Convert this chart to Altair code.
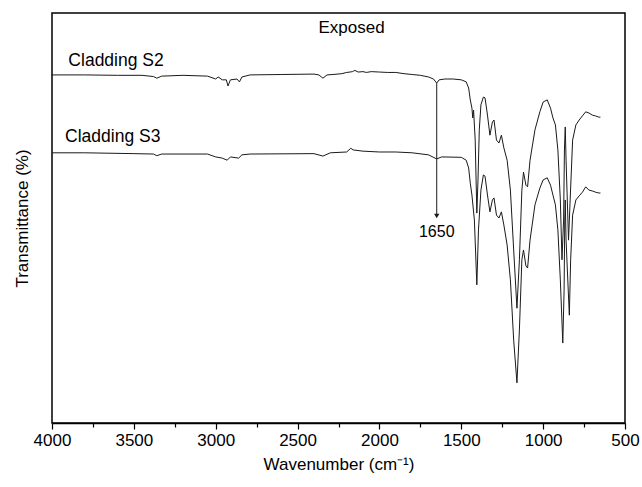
import altair as alt
import pandas as pd

# FTIR spectra of the exposed cladding samples (arbitrary transmittance scale)
wn_s2 = [4000, 3800, 3600, 3450, 3380, 3360, 3330, 3200, 3050, 3000, 2985, 2960, 2935, 2925,
         2910, 2870, 2855, 2840, 2790, 2600, 2400, 2370, 2345, 2320, 2284, 2230, 2200, 2180,
         2165, 2150, 2130, 2100, 2080, 2050, 2000, 1950, 1900, 1850, 1800, 1750, 1700, 1670,
         1650, 1635, 1600, 1550, 1500, 1470, 1455, 1445, 1435, 1430, 1425, 1415, 1405, 1398,
         1390, 1380, 1365, 1355, 1340, 1325, 1310, 1300, 1285, 1270, 1255, 1240, 1220, 1200,
         1180, 1160, 1145, 1130, 1120, 1105, 1095, 1080, 1050, 1020, 1000, 975, 955, 940, 925,
         910, 895, 885, 875, 870, 865, 860, 845, 835, 820, 800, 780, 760, 740, 720, 700, 680,
         660, 650]
t_s2 = [84.9, 84.9, 84.8, 84.8, 84.5, 84.1, 84.6, 84.8, 84.6, 83.9, 84.4, 83.7, 83.7, 82.2,
        83.7, 83.9, 83.2, 84.4, 84.9, 85.0, 85.1, 84.9, 84.1, 84.9, 85.0, 85.2, 85.5, 85.6,
        85.7, 86.0, 85.6, 85.7, 85.5, 85.7, 85.6, 85.5, 85.5, 85.2, 85.0, 84.8, 84.4, 83.9,
        82.9, 83.7, 83.9, 83.9, 83.7, 83.2, 81.7, 78.8, 76.8, 74.4, 76.3, 69.0, 51.2, 59.3,
        71.5, 77.6, 79.5, 79.3, 75.1, 70.2, 73.4, 73.9, 69.0, 68.3, 70.2, 67.1, 64.1, 56.8,
        42.2, 28.0, 39.8, 56.8, 61.2, 58.0, 57.6, 64.1, 71.5, 75.9, 78.3, 78.8, 76.8, 74.4, 72.7,
        66.6, 54.4, 39.8, 49.5, 66.6, 72.2, 64.1, 44.6, 54.4, 69.0, 72.7, 73.9, 74.9, 75.9, 75.6,
        75.1, 74.9, 74.6, 74.6]

wn_s3 = [4000, 3800, 3500, 3380, 3360, 3330, 3050, 3000, 2960, 2930, 2910, 2860, 2840, 2790,
         2400, 2345, 2300, 2200, 2175, 2160, 2100, 2000, 1900, 1800, 1700, 1650, 1620, 1500,
         1470, 1455, 1445, 1435, 1420, 1405, 1395, 1380, 1365, 1355, 1340, 1325, 1310, 1300,
         1285, 1270, 1255, 1240, 1220, 1200, 1180, 1160, 1145, 1130, 1120, 1105, 1095, 1080,
         1050, 1020, 1000, 975, 955, 940, 925, 910, 895, 880, 872, 868, 865, 860, 840, 832, 820,
         800, 780, 760, 740, 720, 700, 680, 660, 650]
t_s3 = [65.9, 65.9, 65.7, 65.6, 65.2, 65.6, 65.6, 64.9, 64.6, 64.1, 64.9, 64.6, 65.4, 65.6,
        65.7, 65.1, 65.9, 66.1, 67.0, 66.6, 66.3, 66.1, 66.1, 65.9, 65.4, 64.4, 64.9, 64.8,
        64.1, 62.2, 58.5, 55.6, 49.5, 33.7, 47.1, 56.8, 60.5, 60.2, 55.6, 51.5, 54.4, 54.9,
        50.7, 50.0, 51.5, 48.3, 43.4, 34.9, 20.2, 9.8, 22.7, 39.8, 42.2, 38.3, 37.8, 44.6,
        53.2, 57.3, 59.3, 59.8, 58.0, 55.6, 53.2, 47.1, 34.9, 19.5, 32.4, 49.5, 54.4, 44.6,
        26.3, 39.8, 50.7, 54.4, 55.4, 56.3, 57.6, 56.8, 56.6, 56.3, 56.1, 56.1]

# Annotation for the 1650 cm-1 band
band_wn = 1650
band_top = 82.9
band_bottom = 50.5
band_label_y = 46.6

series_names = ["Cladding S2", "Cladding S3"]
series_label_wn = [3900, 3920]
series_label_t = [88.3, 69.8]
title_text = "Exposed"
title_wn = 2170
title_t = 96.3

FONT = "Liberation Sans"

spectra = pd.concat([
    pd.DataFrame({"wn": wn_s2, "t": t_s2, "sample": series_names[0]}),
    pd.DataFrame({"wn": wn_s3, "t": t_s3, "sample": series_names[1]}),
])

x_scale = alt.Scale(domain=[4000, 500], nice=False, zero=False)
y_scale = alt.Scale(domain=[0, 100], nice=False, zero=False)

x_axis = alt.Axis(
    values=list(range(500, 4001, 250)),
    labelExpr="datum.value % 500 === 0 ? datum.label : ''",
    tickSize={"condition": {"test": "datum.value % 500 === 0", "value": 6}, "value": 4},
    format="d",
    grid=False,
    domainColor="black",
    domainWidth=1.5,
    tickColor="black",
    tickWidth=1.2,
    labelFont=FONT,
    labelFontSize=17,
    labelColor="black",
    labelPadding=3,
    labelFlush=False,
    title="Wavenumber (cm\u207b\u00b9)",
    titleFont=FONT,
    titleFontSize=17,
    titleFontWeight="normal",
    titleColor="black",
    titlePadding=8,
)
y_axis = alt.Axis(
    labels=False,
    ticks=False,
    domain=False,
    grid=False,
    title="Transmittance (%)",
    titleFont=FONT,
    titleFontSize=17,
    titleFontWeight="normal",
    titleColor="black",
    titlePadding=21,
)

lines = alt.Chart(spectra).mark_line(color="#1a1a1a", strokeWidth=1, clip=True).encode(
    x=alt.X("wn:Q", scale=x_scale, axis=x_axis),
    y=alt.Y("t:Q", scale=y_scale, axis=y_axis),
    detail="sample:N",
    order="wn:Q",
)

arrow_df = pd.DataFrame({"wn": [band_wn], "t": [band_top], "t2": [band_bottom],
                         "ly": [band_label_y], "label": [str(band_wn)]})
arrow_shaft = alt.Chart(arrow_df).mark_rule(color="#1a1a1a", strokeWidth=1).encode(
    x="wn:Q", y="t:Q", y2="t2:Q"
)
arrow_head = alt.Chart(arrow_df).mark_point(
    shape="triangle-down", filled=True, color="#1a1a1a", size=28, opacity=1
).encode(x="wn:Q", y="t2:Q")
arrow_text = alt.Chart(arrow_df).mark_text(
    font=FONT, fontSize=16, color="black", align="center", baseline="middle"
).encode(x="wn:Q", y="ly:Q", text="label:N")

labels_df = pd.DataFrame({"wn": series_label_wn, "t": series_label_t, "label": series_names})
series_text = alt.Chart(labels_df).mark_text(
    font=FONT, fontSize=17.5, color="black", align="left", baseline="middle"
).encode(x="wn:Q", y="t:Q", text="label:N")

title_df = pd.DataFrame({"wn": [title_wn], "t": [title_t], "label": [title_text]})
title_mark = alt.Chart(title_df).mark_text(
    font=FONT, fontSize=17, color="black", align="center", baseline="middle"
).encode(x="wn:Q", y="t:Q", text="label:N")

chart = alt.layer(lines, arrow_shaft, arrow_head, arrow_text, series_text, title_mark).properties(
    width=573,
    height=410,
    autosize=alt.AutoSizeParams(type="none"),
    padding={"left": 52, "top": 13, "right": 17, "bottom": 64},
    background="white",
).configure_view(stroke="black", strokeWidth=1.5)

chart.save("out.html", embed_options={"renderer": "svg", "actions": False})
